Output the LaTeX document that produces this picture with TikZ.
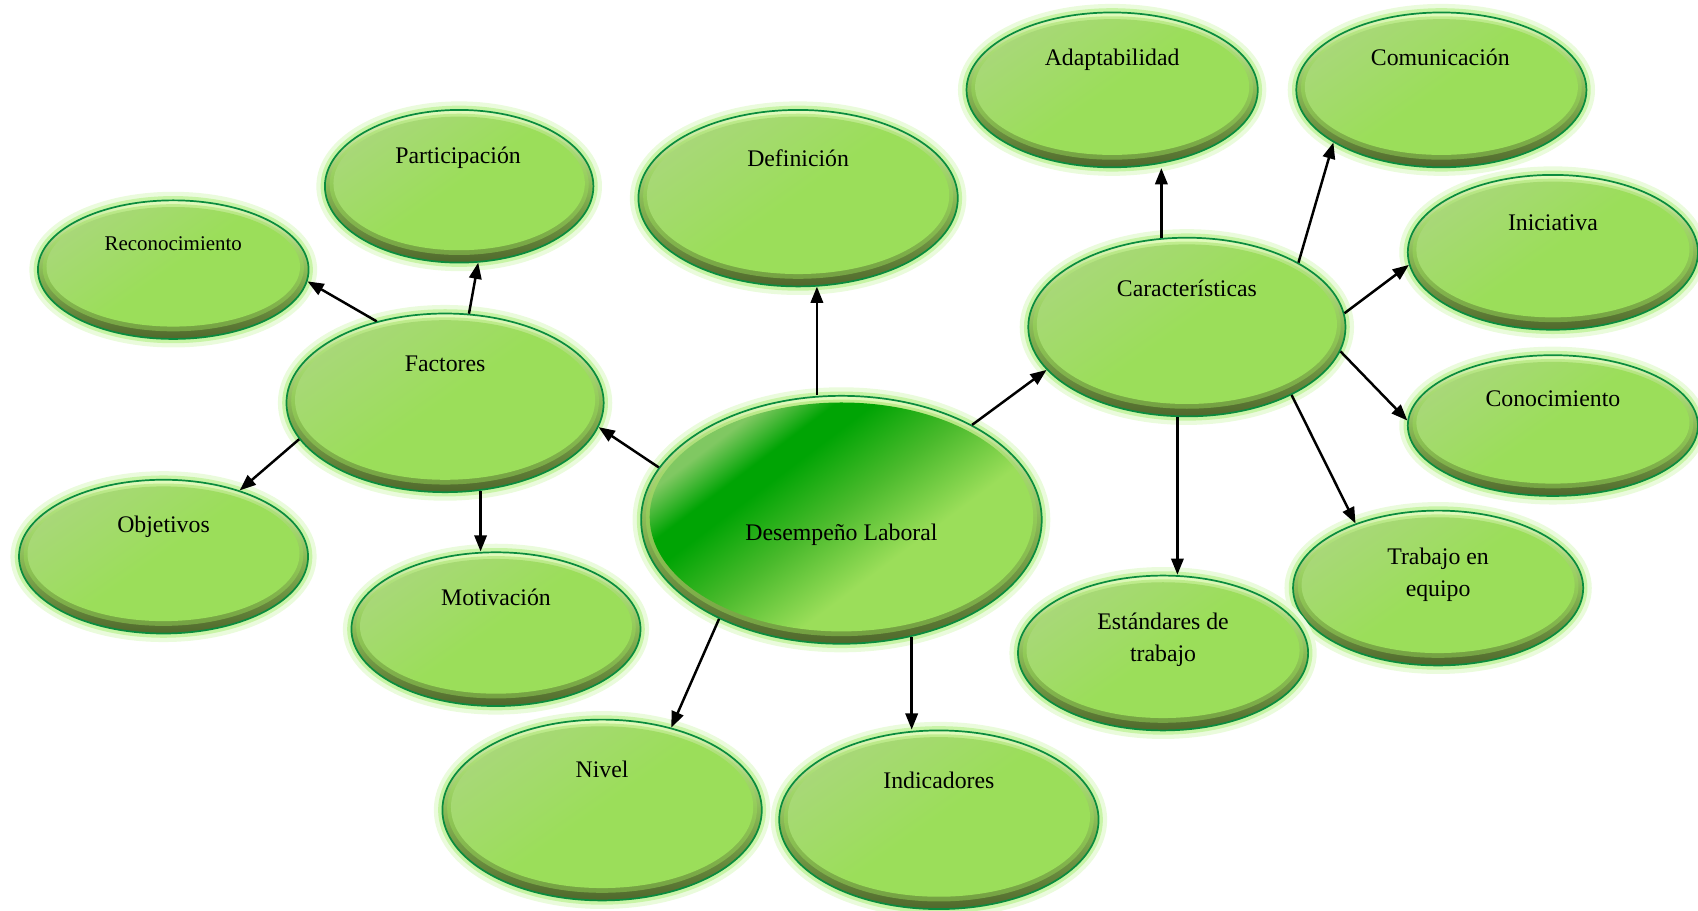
\documentclass[tikz,border=0pt]{standalone}
\usepackage{fontspec}
\setmainfont{Liberation Serif}
\usetikzlibrary{shapes.geometric,arrows.meta,calc}

\definecolor{leaf}{RGB}{155,222,90}
\definecolor{leafpale}{RGB}{168,216,120}
\definecolor{bevlight}{RGB}{226,252,190}
\definecolor{bevmid}{RGB}{138,186,86}
\definecolor{bevdark}{RGB}{80,104,44}
\definecolor{edge}{RGB}{10,140,62}
\definecolor{glow}{RGB}{200,244,166}
\definecolor{haze}{RGB}{234,251,220}
\definecolor{dlpale}{RGB}{128,200,98}
\definecolor{dldeep}{RGB}{0,164,4}
\definecolor{dlmid}{RGB}{74,186,44}

\pgfdeclarehorizontalshading{dlband}{100bp}{color(0bp)=(dlpale); color(27bp)=(dlpale);
  color(34bp)=(dldeep); color(38bp)=(dldeep); color(49bp)=(dlmid); color(61bp)=(leaf);
  color(100bp)=(leaf)}

\newcommand\bevelfill[1]{%
  \fill[top color=bevlight, bottom color=bevdark, middle color=bevmid]
    (path picture bounding box.south west) rectangle (path picture bounding box.north east);
  \path[fill=leaf, opacity=0.45]
    let \p1=($(path picture bounding box.north east)-(path picture bounding box.south west)$) in
    ([yshift=1pt]path picture bounding box.center) ellipse [x radius=\x1/2-2.5pt, y radius=\y1/2-3pt];
  \path[#1]
    let \p1=($(path picture bounding box.north east)-(path picture bounding box.south west)$) in
    ([yshift=1.5pt]path picture bounding box.center) ellipse [x radius=\x1/2-4.5pt, y radius=\y1/2-5pt];
}

\begin{document}
\begin{tikzpicture}[x=0.02cm, y=-0.02cm,
  bubble/.style={ellipse, inner sep=0pt, draw=edge, line width=0.9pt,
    preaction={draw=haze, line width=9pt},
    preaction={draw=glow, line width=4.5pt},
    path picture={\bevelfill{#1}}},
  bubble/.default={top color=leafpale, bottom color=leaf, middle color=leaf, shading angle=35},
  sz/.style 2 args={minimum width=#1cm, minimum height=#2cm},
  tag/.style={font=\fontsize{12.5}{17}\selectfont, align=center, inner sep=0pt},
  one/.style={text height=9pt, text depth=2.5pt},
  arr/.style={-{Triangle[length=8.5pt,width=6.5pt]}, line width=1.3pt}]

\useasboundingbox (0,0) rectangle (1568,841);

% bubbles
\node[bubble, sz={5.00}{2.56}] (rec) at (160,249) {};
\node[bubble, sz={4.96}{2.82}] (par) at (424,172) {};
\node[bubble, sz={5.86}{3.30}] (fac) at (411,372) {};
\node[bubble, sz={5.34}{2.84}] (obj) at (151,514) {};
\node[bubble, sz={5.34}{2.84}] (mot) at (458,581) {};
\node[bubble, sz={5.90}{3.26}] (def) at (737,183) {};
\node[bubble, sz={5.90}{3.34}] (niv) at (556,748) {};
\node[bubble, sz={5.90}{3.30}] (ind) at (867,757) {};
\node[bubble, sz={5.38}{2.86}] (ada) at (1027,83) {};
\node[bubble, sz={5.36}{2.86}] (com) at (1331,83) {};
\node[bubble, sz={5.86}{3.30}] (car) at (1096,302) {};
\node[bubble, sz={5.36}{2.86}] (ini) at (1434,233) {};
\node[bubble, sz={5.36}{2.60}] (con) at (1434,393) {};
\node[bubble, sz={5.36}{2.86}] (tra) at (1328,543) {};
\node[bubble, sz={5.36}{2.86}] (est) at (1074,603) {};
\node[bubble={shade, shading=dlband, shading angle=-53}, sz={7.40}{4.58}] (dl) at (777,480) {};

% texts
\node[tag, one, font=\fontsize{11}{13}\selectfont] (rec-t) at (160,226) {Reconocimiento};
\node[tag, one] (par-t) at (423,145) {Participación};
\node[tag, one] (fac-t) at (411,337) {Factores};
\node[tag, one] (obj-t) at (151,486) {Objetivos};
\node[tag, one] (mot-t) at (458,553) {Motivación};
\node[tag, one] (def-t) at (737,148) {Definición};
\node[tag, one] (niv-t) at (556,712) {Nivel};
\node[tag, one] (ind-t) at (867,722) {Indicadores};
\node[tag, one] (ada-t) at (1027,55) {Adaptabilidad};
\node[tag, one] (com-t) at (1330,55) {Comunicación};
\node[tag, one] (car-t) at (1096,268) {Características};
\node[tag, one] (ini-t) at (1434,207) {Iniciativa};
\node[tag, one] (con-t) at (1434,370) {Conocimiento};
\node[tag] (tra-t) at (1328,531) {Trabajo en\\equipo};
\node[tag] (est-t) at (1074,591) {Estándares de\\trabajo};
\node[tag, one] (dl-t) at (777,493) {Desempeño Laboral};

% arrows
\draw[arr] (dl.164) -- (fac.-9);
\draw[arr] (fac.130) -- (rec.-5);
\draw[arr] (fac.75) -- (par.-76);
\draw[arr] (fac.194) -- (obj.41);
\draw[arr] (fac.-68) -- (fac.-68 |- mot.north);
\draw[arr] (def.-78 |- dl.north) -- (def.-78);
\draw[arr] (dl.-141) -- (niv.50);
\draw[arr] (dl.-59) -- (dl.-59 |- ind.north);
\draw[arr] (dl.36) -- (car.197);
\draw[arr] (car.106) -- (car.106 |- ada.south);
\draw[arr] (car.30) -- (com.206);
\draw[arr] (car.5) -- (ini.185);
\draw[arr] (car.-9) -- (con.178);
\draw[arr] (car.-33) -- (tra.142);
\draw[arr] (car.-96) -- (car.-96 |- est.north);

\end{tikzpicture}
\end{document}
